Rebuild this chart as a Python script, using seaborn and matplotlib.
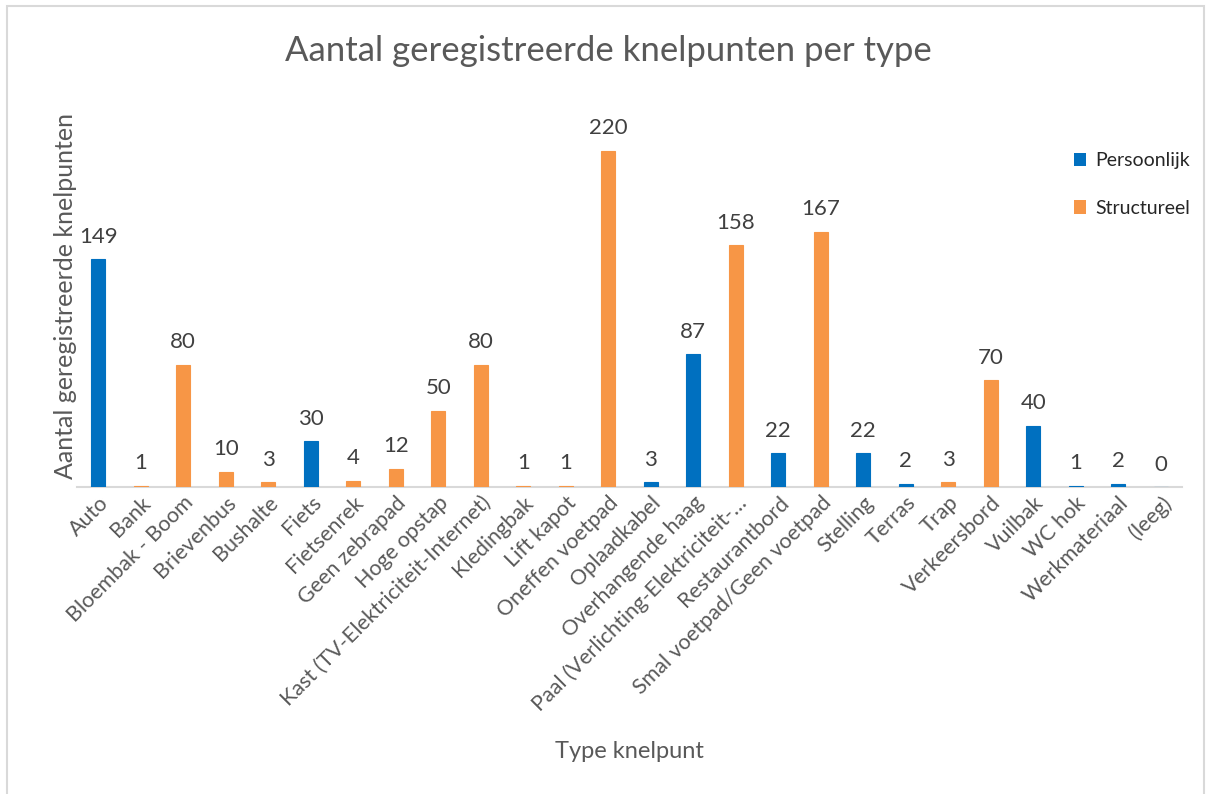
import matplotlib
matplotlib.use("Agg")
import matplotlib.pyplot as plt
import seaborn as sns
import pandas as pd
from matplotlib.patches import Rectangle, Patch

categories = ["Auto", "Bank", "Bloembak - Boom", "Brievenbus", "Bushalte", "Fiets",
              "Fietsenrek", "Geen zebrapad", "Hoge opstap",
              "Kast (TV-Elektriciteit-Internet)", "Kledingbak", "Lift kapot",
              "Oneffen voetpad", "Oplaadkabel", "Overhangende haag",
              "Paal (Verlichting-Elektriciteit-…", "Restaurantbord",
              "Smal voetpad/Geen voetpad", "Stelling", "Terras", "Trap",
              "Verkeersbord", "Vuilbak", "WC hok", "Werkmateriaal", "(leeg)"]
values = [149, 1, 80, 10, 3, 30, 4, 12, 50, 80, 1, 1, 220, 3, 87, 158, 22, 167,
          22, 2, 3, 70, 40, 1, 2, 0]
types = ["Persoonlijk", "Structureel", "Structureel", "Structureel", "Structureel",
         "Persoonlijk", "Structureel", "Structureel", "Structureel", "Structureel",
         "Structureel", "Structureel", "Structureel", "Persoonlijk", "Persoonlijk",
         "Structureel", "Persoonlijk", "Structureel", "Persoonlijk", "Persoonlijk",
         "Structureel", "Structureel", "Persoonlijk", "Persoonlijk", "Persoonlijk",
         "Persoonlijk"]
series = ["Persoonlijk", "Structureel"]
colors = {"Persoonlijk": "#0070C0", "Structureel": "#F79646"}

df = pd.DataFrame({"cat": categories, "val": values, "type": types})

sns.set_theme(style="white")
plt.rcParams["font.family"] = ["Lato", "DejaVu Sans"]

fig = plt.figure(figsize=(12.09, 7.94), dpi=100)
ax = fig.add_axes([0.0637, 0.3866, 0.914, 0.4814])

sns.barplot(data=df, x="cat", y="val", hue="type", hue_order=series,
            order=categories, palette=colors, dodge=False, width=0.32,
            ax=ax, legend=False, saturation=1)

for c in ax.containers:
    for p in c:
        p.set_edgecolor(p.get_facecolor())
        p.set_linewidth(0.8)
    ax.bar_label(c, padding=9, fontsize=16, color="#404040")

ax.set_ylim(0, 250)
ax.set_xlim(-0.5, len(categories) - 0.5)
ax.set_yticks([])
for s in ["top", "right", "left"]:
    ax.spines[s].set_visible(False)
ax.spines["bottom"].set_color("#d9d9d9")
ax.spines["bottom"].set_linewidth(1.5)
ax.spines["bottom"].set_zorder(0.5)
ax.tick_params(axis="x", length=0, pad=4, labelsize=15.5, labelcolor="#595959")
ax.set_xticks(range(len(categories)))
ax.set_xticklabels(categories, rotation=45, ha="right", rotation_mode="anchor")

ax.set_xlabel("Type knelpunt", fontsize=17, color="#595959")
ax.xaxis.set_label_coords(0.5, -0.665)
ax.set_ylabel("Aantal geregistreerde knelpunten", fontsize=18, color="#595959")
ax.yaxis.set_label_coords(-0.0, 0.5)

fig.text(0.503, 0.936, "Aantal geregistreerde knelpunten per type",
         ha="center", va="center", fontsize=25, color="#595959")

handles = [Patch(facecolor=colors[s], edgecolor="none") for s in series]
fig.legend(handles, series, loc="upper left", bbox_to_anchor=(0.874, 0.83),
           frameon=False, fontsize=14, handlelength=0.6, handleheight=0.7,
           handletextpad=0.5, labelspacing=1.55, labelcolor="#262626")

fig.patches.append(Rectangle((0.006, -0.01), 0.99, 1.003, transform=fig.transFigure,
                             fill=False, edgecolor="#d9d9d9", linewidth=1.5))

fig.savefig("out.png", dpi=100, facecolor="white")
